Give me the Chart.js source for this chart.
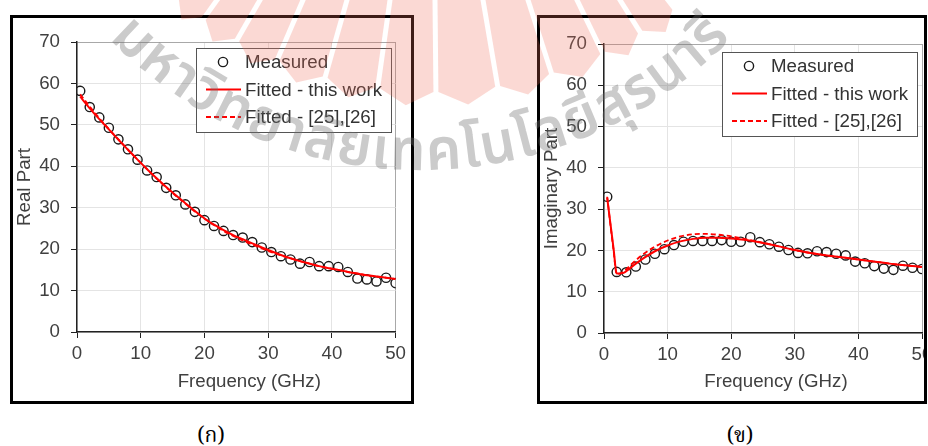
<!DOCTYPE html>
<html>
<head>
<meta charset="utf-8">
<script src="https://cdn.jsdelivr.net/npm/chart.js@4.4.1/dist/chart.umd.min.js"></script>
<style>
  body { margin: 0; background: #fff; width: 928px; height: 446px; position: relative; overflow: hidden; }
  .frame { position: absolute; top: 15px; height: 383px; border: 3px solid #000; overflow: hidden; background: #fff; }
  #frame1 { left: 10px; width: 398px; }
  #frame2 { left: 537px; width: 384px; }
  .frame canvas { position: absolute; left: 0; top: 0; }
  #watermark { position: absolute; left: 0; top: 0; pointer-events: none; z-index: 5; }
  .cap { position: absolute; top: 420px; width: 100px; text-align: center; font: 21px "Noto Serif Thai", "Noto Sans Thai", "Tlwg Typo", "Garuda", serif; color: #000; }
</style>
</head>
<body>
<div class="frame" id="frame1"><canvas id="real-chart" width="398" height="383"></canvas></div>
<div class="frame" id="frame2"><canvas id="imag-chart" width="400" height="383"></canvas></div>
<canvas id="watermark" width="928" height="446"></canvas>
<div class="cap" style="left:161px">(ก)</div>
<div class="cap" style="left:690px">(ข)</div>
<script>
// measured frequencies (GHz)
const freq = [0.5, 2, 3.5, 5, 6.5, 8, 9.5, 11, 12.5, 14, 15.5, 17, 18.5, 20, 21.5, 23, 24.5,
              26, 27.5, 29, 30.5, 32, 33.5, 35, 36.5, 38, 39.5, 41, 42.5, 44, 45.5, 47, 48.5, 50];

// real part
const realMeasured = [58.2, 54.3, 51.8, 49.3, 46.5, 44.1, 41.6, 39.0, 37.4, 34.8, 33.0, 30.8, 29.0, 27.0, 25.6, 24.4, 23.4,
                      22.8, 21.7, 20.4, 19.3, 18.3, 17.5, 16.5, 16.9, 15.9, 15.9, 15.7, 14.5, 12.9, 12.7, 12.2, 13.1, 11.8];
const realFitThis = [56.8, 54.0, 51.4, 48.9, 46.4, 44.0, 41.6, 39.3, 37.1, 35.0, 33.0, 31.1, 29.2, 27.4, 25.9, 24.6, 23.4,
                     22.4, 21.4, 20.4, 19.5, 18.6, 17.8, 17.1, 16.5, 15.9, 15.4, 15.0, 14.5, 14.1, 13.7, 13.4, 13.1, 12.8];
const realFitRef = [57.4, 54.4, 51.6, 49.0, 46.5, 44.0, 41.6, 39.3, 37.0, 34.9, 32.9, 31.0, 29.1, 27.4, 25.8, 24.4, 23.2,
                    22.1, 21.1, 20.2, 19.3, 18.5, 17.8, 17.1, 16.5, 15.9, 15.4, 15.0, 14.5, 14.1, 13.7, 13.4, 13.1, 12.8];

// imaginary part
const imagMeasured = [33.0, 14.8, 14.7, 16.1, 17.8, 19.2, 20.3, 21.3, 22.1, 22.3, 22.3, 22.3, 22.5, 22.1, 22.1, 23.2, 22.0,
                      21.5, 20.9, 20.1, 19.4, 19.3, 19.8, 19.6, 19.2, 18.8, 17.3, 16.9, 16.2, 15.6, 15.3, 16.3, 15.8, 15.5];
const fitFreq = [0.5, 1, 1.5, 2, 3, 4, 5, 6, 8, 10, 12, 14, 16, 18, 20, 22, 24, 26, 28, 30, 32, 34, 36, 38, 40, 42, 44, 46, 48, 50];
const imagFitThis = [32.8, 26.6, 20.5, 14.4, 14.5, 15.6, 16.8, 17.9, 19.8, 21.2, 22.2, 22.8, 23.1, 23.1, 22.9, 22.6, 22.1,
                     21.5, 20.8, 20.1, 19.5, 19.0, 18.6, 18.2, 17.8, 17.4, 17.0, 16.6, 16.3, 16.0];
const imagFitRef = [33.0, 26.3, 20.0, 14.2, 14.8, 16.2, 17.6, 18.9, 20.9, 22.4, 23.4, 23.9, 24.0, 23.8, 23.4, 22.8, 22.2,
                    21.5, 20.8, 20.1, 19.5, 19.0, 18.6, 18.2, 17.8, 17.4, 17.0, 16.6, 16.3, 16.0];

const xTicks = [0, 10, 20, 30, 40, 50];
const yTicks = [0, 10, 20, 30, 40, 50, 60, 70];
const legendLabels = ['Measured', 'Fitted - this work', 'Fitted - [25],[26]'];
const watermarkText = ['ม', 'ห', 'า', 'วิ', 'ท', 'ย', 'า', 'ลั', 'ย', 'เ', 'ท', 'ค', 'โ', 'น', 'โ', 'ล', 'ยี', 'สุ', 'ร', 'น', 'า', 'รี'];

const fontFamily = '"Liberation Sans", Arial, sans-serif';
Chart.defaults.font.family = fontFamily;
Chart.defaults.font.size = 18.7;
Chart.defaults.color = '#404040';

const toPoints = (xs, ys) => xs.map((x, i) => ({ x: x, y: ys[i] }));

// legend box drawn inside the plot area
const boxLegend = {
    id: 'boxLegend',
    afterDatasetsDraw(chart, args, opts) {
        const ctx = chart.ctx;
        const area = chart.chartArea;
        const w = 195, h = 84;
        const x0 = Math.round(area.right - opts.right - w);
        const y0 = Math.round(area.top + opts.top);
        ctx.save();
        ctx.fillStyle = '#fff';
        ctx.fillRect(x0, y0, w, h);
        ctx.strokeStyle = '#555';
        ctx.lineWidth = 1;
        ctx.strokeRect(x0 + 0.5, y0 + 0.5, w, h);
        chart.data.datasets.forEach((ds, i) => {
            const cy = y0 + 14 + i * 27.5;
            ctx.beginPath();
            ctx.strokeStyle = ds.borderColor;
            ctx.lineWidth = ds.borderWidth;
            if (ds.showLine) {
                ctx.setLineDash(ds.borderDash || []);
                ctx.moveTo(x0 + 10, cy);
                ctx.lineTo(x0 + 45, cy);
            } else {
                ctx.arc(x0 + 27, cy, ds.pointRadius, 0, Math.PI * 2);
            }
            ctx.stroke();
            ctx.setLineDash([]);
            ctx.fillStyle = '#333';
            ctx.font = '18.7px ' + fontFamily;
            ctx.textBaseline = 'middle';
            ctx.fillText(ds.label, x0 + 49, cy + 1);
        });
        ctx.restore();
    }
};

function makeDatasets(mx, my, fx, fThis, fRef) {
    return [{
        label: legendLabels[0],
        data: toPoints(mx, my),
        showLine: false,
        pointRadius: 4.6,
        borderWidth: 1.4,
        borderColor: '#1a1a1a',
        backgroundColor: 'rgba(0,0,0,0)',
        order: 3
    }, {
        label: legendLabels[1],
        data: toPoints(fx, fThis),
        showLine: true,
        borderColor: '#ff0000',
        borderWidth: 2,
        pointRadius: 0,
        cubicInterpolationMode: 'monotone',
        order: 2
    }, {
        label: legendLabels[2],
        data: toPoints(fx, fRef),
        showLine: true,
        borderColor: '#ff0000',
        borderWidth: 1.8,
        borderDash: [5, 3],
        pointRadius: 0,
        cubicInterpolationMode: 'monotone',
        order: 1
    }];
}

function makeScales(yTitle, xHeight) {
    return {
        x: {
            type: 'linear', min: 0, max: 50,
            afterBuildTicks: s => { s.ticks = xTicks.map(v => ({ value: v })); },
            afterFit: s => { s.height = xHeight; },
            ticks: { padding: 5, maxRotation: 0 },
            grid: {
                color: c => c.tick && c.tick.value === 50 ? '#a8a8a8' : '#e4e4e4',
                tickColor: '#222', tickLength: 6
            },
            border: { color: '#222', width: 1.5 },
            title: { display: true, text: '     Frequency (GHz)', padding: { top: 0, bottom: 8 }, color: '#404040' }
        },
        y: {
            min: 0, max: 70,
            afterBuildTicks: s => { s.ticks = yTicks.map(v => ({ value: v })); },
            afterFit: s => { s.width = 64; },
            ticks: { padding: 11 },
            grid: {
                color: c => c.tick && c.tick.value === 70 ? '#a8a8a8' : '#e4e4e4',
                tickColor: '#222', tickLength: 6
            },
            border: { color: '#222', width: 1.5 },
            title: { display: true, text: yTitle, padding: { top: 1, bottom: 0 }, color: '#404040' }
        }
    };
}

function drawChart(el, datasets, yTitle, padding, xHeight, legendTop) {
    new Chart(el, {
        type: 'scatter',
        data: { datasets: datasets },
        options: {
            responsive: false,
            animation: false,
            events: [],
            layout: { padding: padding },
            scales: makeScales(yTitle, xHeight),
            plugins: {
                legend: { display: false },
                tooltip: { enabled: false },
                boxLegend: { right: 5, top: legendTop }
            }
        },
        plugins: [boxLegend]
    });
}

drawChart(document.getElementById('real-chart'),
    makeDatasets(freq, realMeasured, freq, realFitThis, realFitRef),
    'Real Part', { left: 0, right: 13, top: 24, bottom: 0 }, 69, 6);

drawChart(document.getElementById('imag-chart'),
    makeDatasets(freq, imagMeasured, fitFreq, imagFitThis, imagFitRef),
    'Imaginary Part', { left: 0, right: 18, top: 26, bottom: 0 }, 68, 8);

// university watermark: pink fan logo and arched grey name
function drawWatermark() {
    const ctx = document.getElementById('watermark').getContext('2d');
    const cx = 432, cy = -300, R = 392, tip = 14, gap = 2.5;
    const edges = [175, 217, 260, 303, 347, 390, 435, 483, 528, 577, 620, 668];
    const dir = a => [Math.sin(a), Math.cos(a)];
    const nrm = a => [Math.cos(a), -Math.sin(a)];
    ctx.fillStyle = 'rgba(240, 110, 90, 0.26)';
    for (let i = 0; i < edges.length - 1; i++) {
        const a = Math.atan((edges[i] - cx) / -cy);
        const b = Math.atan((edges[i + 1] - cx) / -cy);
        const m = (a + b) / 2;
        const pt = (ang, off, r) => [cx + off * nrm(ang)[0] + r * dir(ang)[0], cy + off * nrm(ang)[1] + r * dir(ang)[1]];
        const pts = [pt(a, gap, 150), pt(a, gap, R), pt(m, 0, R + tip), pt(b, -gap, R), pt(b, -gap, 150)];
        ctx.beginPath();
        pts.forEach((p, k) => k ? ctx.lineTo(p[0], p[1]) : ctx.moveTo(p[0], p[1]));
        ctx.closePath();
        ctx.fill();
    }

    const tx = 420, ty = -263, base = 433;
    const start = -46 * Math.PI / 180, end = 46 * Math.PI / 180;
    ctx.font = '600 58px "Noto Sans Thai", "Garuda", "Loma", sans-serif';
    ctx.fillStyle = 'rgba(110, 110, 110, 0.36)';
    ctx.textBaseline = 'alphabetic';
    const widths = watermarkText.map(t => ctx.measureText(t).width);
    const total = widths.reduce((s, w) => s + w, 0);
    const arc = (end - start) * (base - 20);
    const sx = arc / total;
    let acc = 0;
    watermarkText.forEach((t, i) => {
        const mid = acc + widths[i] / 2;
        acc += widths[i];
        const phi = start + (mid / total) * (end - start);
        ctx.save();
        ctx.translate(tx + base * Math.sin(phi), ty + base * Math.cos(phi));
        ctx.rotate(-phi);
        ctx.scale(sx, 1);
        ctx.fillText(t, -widths[i] / 2, 0);
        ctx.restore();
    });
}
drawWatermark();
</script>
</body>
</html>
